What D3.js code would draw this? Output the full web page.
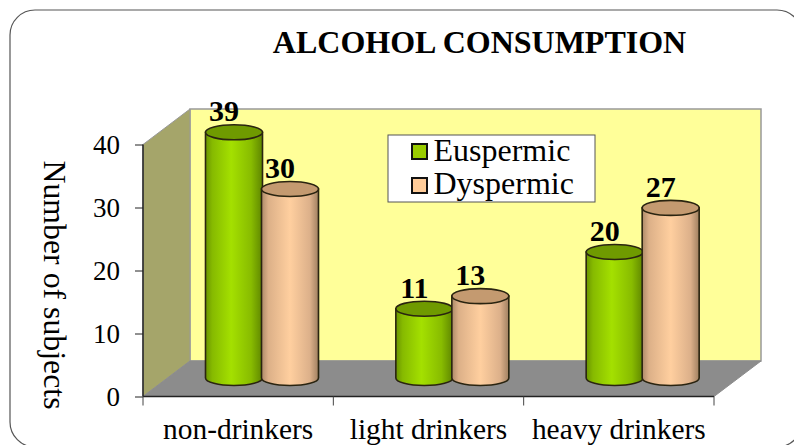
<!DOCTYPE html>
<html><head><meta charset="utf-8"><style>html,body{margin:0;padding:0;background:#fff;overflow:hidden}svg{display:block}text{font-family:"Liberation Serif",serif}</style>
<script src="https://cdn.jsdelivr.net/npm/d3@7"></script></head><body><svg id="c" width="794" height="445"></svg>
<script>
const categories = ["non-drinkers","light drinkers","heavy drinkers"];
const seriesNames = ["Euspermic","Dyspermic"];
const euspermic = [39,11,20];
const dyspermic = [30,13,27];
const yTicks = [0,10,20,30,40];
const svg = d3.select("#c");
const x0=143,x1=714,dx=47,dy=-35.5;
const y = d3.scaleLinear().domain([0,40]).range([396.5,144.5]);
const x = d3.scaleBand().domain(categories).range([x0,x1]);
const defs = svg.append("defs");
function grad(id,stops){const g=defs.append("linearGradient").attr("id",id);stops.forEach(s=>g.append("stop").attr("offset",s[0]).attr("stop-color",s[1]));}
grad("gG",[[0,"#6a9400"],[.12,"#86ba00"],[.45,"#a4e000"],[.8,"#88bc00"],[1,"#5f8600"]]);
grad("gP",[[0,"#ad8a68"],[.12,"#dcb088"],[.5,"#ffcf9f"],[.85,"#dcb08a"],[1,"#a08060"]]);
svg.append("rect").attr("x",10).attr("y",10).attr("width",792).attr("height",437).attr("rx",25).attr("fill","#fff").attr("stroke","#555").attr("stroke-width",1.2);
svg.append("text").attr("x",479.5).attr("y",53).attr("text-anchor","middle").attr("font-weight","bold").attr("font-size",32).text("ALCOHOL CONSUMPTION");
const pts=a=>a.map(p=>p.join(",")).join(" ");
svg.append("polygon").attr("points",pts([[x0+dx,y(40)+dy],[x1+dx,y(40)+dy],[x1+dx,y(0)+dy],[x0+dx,y(0)+dy]])).attr("fill","#ffff99").attr("stroke","#999").attr("stroke-width",1.5);
svg.append("polygon").attr("points",pts([[x0,y(40)],[x0+dx,y(40)+dy],[x0+dx,y(0)+dy],[x0,y(0)]])).attr("fill","#a5a56a").attr("stroke","#999").attr("stroke-width",1);
svg.append("polygon").attr("points",pts([[x0,y(0)],[x0+dx,y(0)+dy],[x1+dx,y(0)+dy],[x1,y(0)]])).attr("fill","#8c8c8c").attr("stroke","#8c8c8c").attr("stroke-width",1);
const axL=svg.append("g").attr("transform",`translate(${x0},0)`).call(d3.axisLeft(y).tickValues(yTicks).tickSize(8).tickPadding(15));
axL.select(".domain").attr("stroke","#222").attr("stroke-width",1.5).attr("d",`M0,${y(0)}V${y(40)}`);
axL.selectAll("line").attr("stroke","#222");
axL.selectAll("text").attr("font-size",27).attr("font-family","Liberation Serif").attr("fill","#000").attr("dy","0.33em");
const axB=svg.append("g").attr("transform",`translate(0,${y(0)})`).call(d3.axisBottom(x).tickSize(0).tickPadding(21.5));
axB.select(".domain").attr("stroke","#222").attr("stroke-width",1.5).attr("d",`M${x0},0H${x1}`);
axB.selectAll("text").attr("font-size",29.4).attr("font-family","Liberation Serif").attr("fill","#000");
[0,1,2,3].forEach(i=>svg.append("line").attr("x1",x0+i*x.bandwidth()).attr("x2",x0+i*x.bandwidth()).attr("y1",y(0)).attr("y2",y(0)+9).attr("stroke","#444"));
const inner=d3.scaleBand().domain(seriesNames).range([63,175]);
const barBase=378, rx=28.5, ry=7.5;
const zero=y(0);
function cyl(cat,name,val,fill,top){
  const cx=x(cat)+inner(name)+inner.bandwidth()/2;
  const yb=barBase, yt=y(val)-(zero-barBase);
  const g=svg.append("g");
  g.append("path").attr("d",`M${cx-rx},${yt}V${yb}A${rx},${ry} 0 0 0 ${cx+rx},${yb}V${yt}Z`).attr("fill",`url(#${fill})`).attr("stroke","#2a2410").attr("stroke-width",1.6);
  g.append("ellipse").attr("cx",cx).attr("cy",yt).attr("rx",rx).attr("ry",ry).attr("fill",top).attr("stroke","#2a2410").attr("stroke-width",1.6);
  svg.append("text").attr("class","vlabel").attr("x",cx-10).attr("y",yt-11).attr("text-anchor","middle").attr("font-weight","bold").attr("font-size",30).text(val);
}
categories.forEach((c,i)=>{cyl(c,seriesNames[0],euspermic[i],"gG","#6f9a00");});
categories.forEach((c,i)=>{cyl(c,seriesNames[1],dyspermic[i],"gP","#c49a70");});
svg.selectAll("text.vlabel").raise();
svg.append("text").attr("transform","translate(44,285) rotate(90)").attr("text-anchor","middle").attr("font-size",31.8).text("Number of subjects");
svg.append("rect").attr("x",388).attr("y",135).attr("width",207).attr("height",67).attr("fill","#fff").attr("stroke","#555");
const swatch=["#99cc00","#ffcc99"];
seriesNames.forEach((n,i)=>{
  svg.append("rect").attr("x",412).attr("y",144+i*34).attr("width",15).attr("height",15).attr("fill",swatch[i]).attr("stroke","#111").attr("stroke-width",2);
  svg.append("text").attr("x",433.5).attr("y",161+i*33).attr("font-size",32).text(n);
});
</script></body></html>
